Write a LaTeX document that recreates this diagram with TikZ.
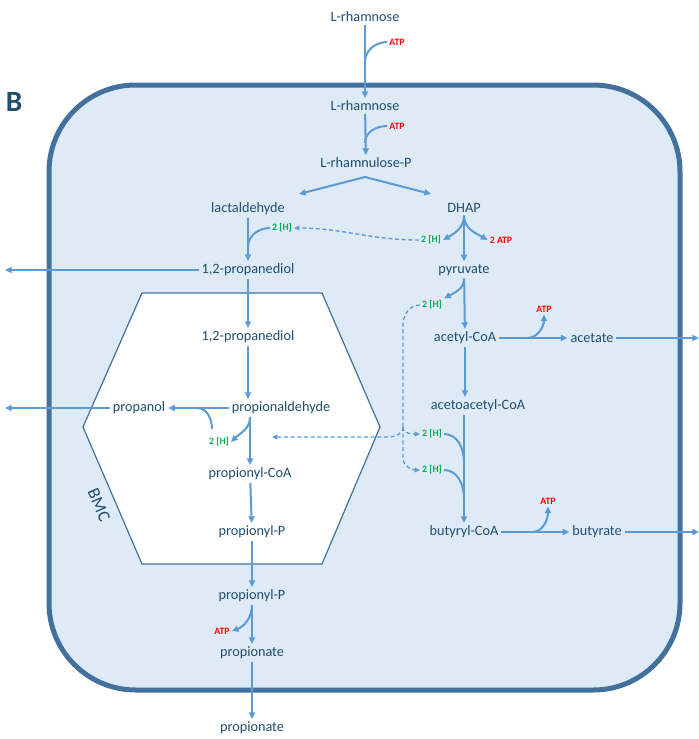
\documentclass[tikz,border=0pt]{standalone}
\usepackage{fontspec}
\setmainfont{Carlito}
\usetikzlibrary{arrows.meta}
\definecolor{txtc}{RGB}{31,78,110}
\definecolor{flowc}{RGB}{91,155,213}
\definecolor{cellc}{RGB}{65,113,156}
\definecolor{cellfill}{RGB}{222,235,247}
\definecolor{hgreen}{RGB}{0,176,80}

\begin{document}
\begin{tikzpicture}[x=0.75pt,y=0.75pt,
    met/.style={text=txtc,font=\fontsize{10.7}{12}\selectfont,inner sep=2pt},
    cof/.style={font=\bfseries\fontsize{7.3}{8}\selectfont,inner sep=1.5pt},
    atp/.style={cof,text=red},
    hyd/.style={cof,text=hgreen},
    flow/.style={draw=flowc,line width=1.5pt,-{Triangle[length=5pt,width=4.5pt]}},
    link/.style={draw=flowc,line width=1.5pt},
    hflow/.style={draw=flowc,line width=1pt,dash pattern=on 3pt off 2pt,-{Triangle[length=4pt,width=3.5pt]}},
    hlink/.style={draw=flowc,line width=1pt,dash pattern=on 3pt off 2pt}]
        \useasboundingbox (0,0) rectangle (699,-739);
        \draw[cellc,fill=cellfill,line width=3.75pt,rounded corners=65pt] (49,-85) rectangle (680,-690);
        \draw[cellc,fill=white,line width=0.9pt] (142,-293) -- (322,-293) -- (380,-427) -- (322,-564) -- (142,-564) -- (83,-427) -- cycle;
        \node[text=txtc,font=\bfseries\fontsize{22}{24}\selectfont] (lbl) at (14,-102) {B};
        \node[text=txtc,font=\fontsize{13}{14}\selectfont,inner sep=1pt,rotate=-66.7] (bmc) at (99,-505) {BMC};

        \node[met] (rham0) at (365,-17) {L-rhamnose};
        \node[atp] (atp0) at (397,-42) {ATP};
        \node[met] (rham1) at (365,-106) {L-rhamnose};
        \node[atp] (atp1) at (397,-126) {ATP};
        \node[met] (rhap) at (366,-163) {L-rhamnulose-P};
        \node[met] (lact) at (248,-209) {lactaldehyde};
        \node[met] (dhap) at (464,-208) {DHAP};
        \node[hyd] (hlact) at (282,-228) {2 [H]};
        \node[hyd] (hdhap) at (431,-240) {2 [H]};
        \node[atp] (atpdhap) at (501,-240) {2 ATP};
        \node[met] (pdo0) at (248,-270) {1,2-propanediol};
        \node[met] (pyr) at (464,-270) {pyruvate};
        \node[hyd] (hpyr) at (432,-305) {2 [H]};
        \node[met] (pdo1) at (248,-337) {1,2-propanediol};
        \node[met] (accoa) at (465,-338) {acetyl-CoA};
        \node[atp] (atpac) at (544,-309) {ATP};
        \node[met] (acet) at (592,-338) {acetate};
        \node[met] (prol) at (139,-408) {propanol};
        \node[met] (pald) at (281,-408) {propionaldehyde};
        \node[met] (aacoa) at (478,-406) {acetoacetyl-CoA};
        \node[hyd] (hpald) at (219,-442) {2 [H]};
        \node[hyd] (hb1) at (432,-434) {2 [H]};
        \node[hyd] (hb2) at (432,-470) {2 [H]};
        \node[met] (prcoa) at (250,-474) {propionyl-CoA};
        \node[met] (bucoa) at (464,-532) {butyryl-CoA};
        \node[atp] (atpbu) at (548,-501) {ATP};
        \node[met] (but) at (597,-532) {butyrate};
        \node[met] (prp0) at (252,-532) {propionyl-P};
        \node[met] (prp1) at (252,-596) {propionyl-P};
        \node[atp] (atppr) at (222,-631) {ATP};
        \node[met] (prop0) at (252,-653) {propionate};
        \node[met] (prop1) at (252,-728) {propionate};

        \coordinate (j0) at (365,-62);
        \coordinate (j1) at (365,-143);
        \coordinate (split) at (365,-177);
        \coordinate (sl) at (299,-194);
        \coordinate (sr) at (431,-194);
        \coordinate (jl) at (248,-247);
        \coordinate (jac) at (527,-338);
        \coordinate (jbu) at (532,-532);
        \coordinate (jpr) at (197,-408);
        \coordinate (jpr0) at (212,-429);
        \coordinate (jb1) at (464,-462);
        \coordinate (jb2) at (464,-498);
        \coordinate (dtop) at (403,-325);
        \coordinate (djn) at (403,-427);
        \coordinate (dlft) at (388,-437);
        \coordinate (dtip) at (272,-437);
        \coordinate (dbot) at (403,-458);
        \coordinate (outpdo) at (5,-270);
        \coordinate (outpr) at (5,-408);
        \coordinate (outac) at (699,-338);
        \coordinate (outbu) at (699,-532);

        \draw[flow] (rham0) -- (rham1);
        \draw[link] (atp0.west) to[out=180,in=90] (j0);
        \draw[flow] (rham1) -- (rhap);
        \draw[link] (atp1.west) to[out=180,in=90] (j1);
        \draw[flow] (split) -- (sl);
        \draw[flow] (split) -- (sr);
        \draw[flow] (lact) -- (pdo0);
        \draw[link] (hlact.west) to[out=180,in=90] (jl);
        \draw[flow] (dhap) -- (pyr);
        \draw[flow] (dhap.south) to[out=-90,in=30] (hdhap.east);
        \draw[flow] (dhap.south) to[out=-90,in=150] (atpdhap.west);
        \draw[hflow] (hdhap.west) to[out=180,in=0] (hlact.east);
        \draw[flow] (pdo0) -- (outpdo);
        \draw[flow] (pdo0) -- (pdo1);
        \draw[flow] (pyr) -- (accoa);
        \draw[flow] (pyr.south) to[out=-90,in=30] (hpyr.north east);
        \draw[hlink] (hpyr.west) to[out=180,in=90] (dtop) -- (djn);
        \draw[hflow] (djn) to[out=-90,in=180] (hb1.west);
        \draw[hflow] (djn) to[out=-90,in=0] (dlft) -- (dtip);
        \draw[hflow] (djn) -- (dbot) to[out=-90,in=180] (hb2.west);
        \draw[flow] (accoa) -- (acet);
        \draw[flow] (jac) to[out=0,in=-90] (atpac.south);
        \draw[flow] (acet) -- (outac);
        \draw[flow] (accoa) -- (accoa |- aacoa.north);
        \draw[flow] (bucoa |- aacoa.south) -- (bucoa);
        \draw[link] (hb1.east) to[out=0,in=90] (jb1);
        \draw[link] (hb2.east) to[out=0,in=90] (jb2);
        \draw[flow] (bucoa) -- (but);
        \draw[flow] (jbu) to[out=0,in=-90] (atpbu.south);
        \draw[flow] (but) -- (outbu);
        \draw[flow] (pdo1) -- (pdo1 |- pald.north);
        \draw[flow] (pald) -- (prol);
        \draw[link] (jpr0) to[out=90,in=0] (jpr);
        \draw[flow] (prol) -- (outpr);
        \draw[flow] (prcoa |- pald.south) -- (prcoa);
        \draw[flow] (prcoa |- pald.south) to[out=-90,in=45] (hpald.east);
        \draw[flow] (prcoa) -- (prp0);
        \draw[flow] (prp0) -- (prp1);
        \draw[flow] (prp1) -- (prop0);
        \draw[flow] (prp1.south) to[out=-90,in=20] (atppr.east);
        \draw[flow] (prop0) -- (prop1);
    \end{tikzpicture}
\end{document}
